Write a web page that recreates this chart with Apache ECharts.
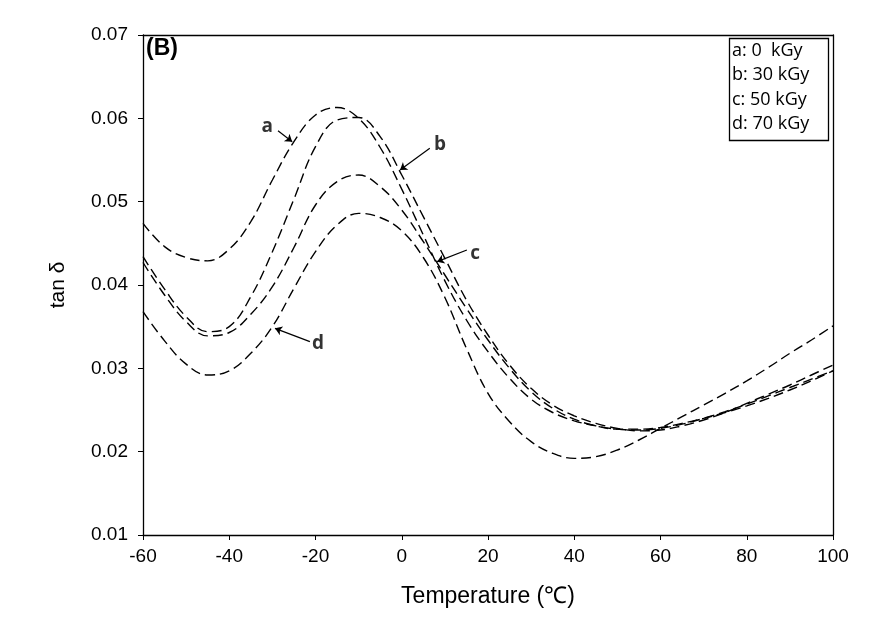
<!DOCTYPE html>
<html>
<head>
<meta charset="utf-8">
<script src="https://cdn.jsdelivr.net/npm/echarts@6/dist/echarts.min.js"></script>
<style>
  html, body { margin: 0; padding: 0; background: #fff; }
  #chart { width: 893px; height: 640px; }
</style>
</head>
<body>
<div id="chart"></div>
<script>
// temperature (℃)
const temps = [-60, -55, -50, -45, -40, -35, -30, -25, -20, -15, -10, -5, 0, 5, 10, 15, 20,
  25, 30, 35, 40, 45, 50, 55, 60, 65, 70, 75, 80, 85, 90, 95, 100]

// tan δ
const curveA = [0.0474, 0.0446, 0.0433, 0.0429, 0.0443, 0.0476, 0.0526, 0.0572, 0.0604, 0.0613, 0.0600,
  0.0565, 0.0515, 0.0460, 0.0405, 0.0358, 0.0320, 0.0288, 0.0263, 0.0247, 0.0237, 0.0231, 0.0227,
  0.0226, 0.0228, 0.0233, 0.0240, 0.0248, 0.0257, 0.0267, 0.0277, 0.0287, 0.0297]
const curveB = [0.0434, 0.0395, 0.0362, 0.0344, 0.0350, 0.0386, 0.0440, 0.0503, 0.0566, 0.0598, 0.0601,
  0.0578, 0.0532, 0.0482, 0.0432, 0.0382, 0.0340, 0.0304, 0.0276, 0.0256, 0.0243, 0.0234, 0.0228,
  0.0225, 0.0226, 0.0231, 0.0238, 0.0247, 0.0258, 0.0269, 0.0280, 0.0292, 0.0304]
const curveC = [0.0427, 0.0388, 0.0356, 0.0339, 0.0343, 0.0365, 0.0398, 0.0445, 0.0496, 0.0524, 0.0532,
  0.0518, 0.0490, 0.0452, 0.0412, 0.0372, 0.0334, 0.0300, 0.0272, 0.0252, 0.0239, 0.0231, 0.0227,
  0.0227, 0.0229, 0.0234, 0.0240, 0.0247, 0.0255, 0.0264, 0.0274, 0.0285, 0.0297]
const curveD = [0.0368, 0.0333, 0.0305, 0.0292, 0.0297, 0.0318, 0.0350, 0.0396, 0.0440, 0.0472, 0.0486,
  0.0481, 0.0465, 0.0433, 0.0385, 0.0324, 0.0270, 0.0236, 0.0212, 0.0198, 0.0192, 0.0194, 0.0202,
  0.0214, 0.0228, 0.0242, 0.0256, 0.0270, 0.0285, 0.0301, 0.0318, 0.0334, 0.0351]

const legendLines = ['a: 0  kGy', 'b: 30 kGy', 'c: 50 kGy', 'd: 70 kGy']

// arrow labels: text point, arrow start, arrow tip
const arrowNames = ['a', 'b', 'c', 'd']
const arrowText = [[-31.2, 0.0590], [8.9, 0.0568], [17.0, 0.0438], [-19.4, 0.0330]]
const arrowFrom = [[-28.7, 0.0585], [6.5, 0.0564], [15.1, 0.0442], [-21.3, 0.0332]]
const arrowTo = [[-25.4, 0.0572], [-0.4, 0.0538], [8.2, 0.0428], [-29.4, 0.0348]]

const pair = arr => temps.map((t, i) => [t, arr[i]])

const chart = echarts.init(document.getElementById('chart'))

const dashLine = {
  color: '#000',
  width: 1.4,
  type: [10, 5]
}

const mkCurve = (name, arr) => ({
  name,
  type: 'line',
  data: pair(arr),
  smooth: 0.4,
  symbol: 'none',
  lineStyle: dashLine,
  silent: true
})

const option = {
  animation: false,
  backgroundColor: '#fff',
  grid: { left: 143, right: 60, top: 35, bottom: 105 },
  xAxis: [
    {
      type: 'value',
      min: -60,
      max: 100,
      interval: 20,
      name: 'Temperature (℃)',
      nameLocation: 'middle',
      nameGap: 50,
      nameTextStyle: { fontFamily: 'Liberation Sans', fontSize: 23, color: '#000' },
      axisLine: { lineStyle: { color: '#000', width: 1.3 } },
      axisTick: { length: 5, lineStyle: { color: '#000' } },
      axisLabel: { fontFamily: 'Liberation Sans', fontSize: 19, color: '#000', margin: 12 },
      splitLine: { show: false }
    },
    {
      type: 'value',
      position: 'top',
      min: -60,
      max: 100,
      axisLine: { show: true, onZero: false, lineStyle: { color: '#000', width: 1.3 } },
      axisTick: { show: false },
      axisLabel: { show: false },
      splitLine: { show: false }
    }
  ],
  yAxis: [
    {
      type: 'value',
      min: 0.01,
      max: 0.07,
      interval: 0.01,
      name: 'tan δ',
      nameLocation: 'middle',
      nameGap: 74,
      nameTextStyle: { fontFamily: 'Liberation Sans', fontSize: 21, color: '#000' },
      axisLine: { show: true, onZero: false, lineStyle: { color: '#000', width: 1.3 } },
      axisTick: { show: true, length: 5, lineStyle: { color: '#000' } },
      axisLabel: {
        fontFamily: 'Liberation Sans',
        fontSize: 19,
        color: '#000',
        margin: 15,
        formatter: v => v.toFixed(2)
      },
      splitLine: { show: false }
    },
    {
      type: 'value',
      position: 'right',
      min: 0.01,
      max: 0.07,
      axisLine: { show: true, onZero: false, lineStyle: { color: '#000', width: 1.3 } },
      axisTick: { show: false },
      axisLabel: { show: false },
      splitLine: { show: false }
    }
  ],
  series: [
    mkCurve('a', curveA),
    mkCurve('b', curveB),
    mkCurve('c', curveC),
    mkCurve('d', curveD),
    {
      // 箭头标注
      type: 'lines',
      coordinateSystem: 'cartesian2d',
      symbol: ['none', 'arrow'],
      symbolSize: 7,
      silent: true,
      lineStyle: { color: '#000', width: 1.2, opacity: 1 },
      data: arrowNames.map((n, i) => ({ coords: [arrowFrom[i], arrowTo[i]] }))
    },
    {
      type: 'scatter',
      symbolSize: 0,
      silent: true,
      data: arrowNames.map((n, i) => ({ value: arrowText[i], name: n })),
      label: {
        show: true,
        position: 'inside',
        formatter: p => p.name,
        fontFamily: 'Open Sans',
        fontWeight: 'bold',
        fontSize: 19,
        color: '#000'
      }
    }
  ],
  graphic: [
    {
      type: 'text',
      left: 146,
      top: 37,
      style: { text: '(B)', font: 'bold 23px "Liberation Sans"', fill: '#000' }
    },
    {
      type: 'rect',
      shape: { x: 729.5, y: 38.5, width: 99, height: 102 },
      style: { fill: '#fff', stroke: '#000', lineWidth: 1.3 }
    },
    ...legendLines.map((t, i) => ({
      type: 'text',
      left: 732,
      top: 42 + i * 24.3,
      style: { text: t, font: '18px "Open Sans"', fill: '#000' }
    }))
  ]
}

chart.setOption(option)
</script>
</body>
</html>
